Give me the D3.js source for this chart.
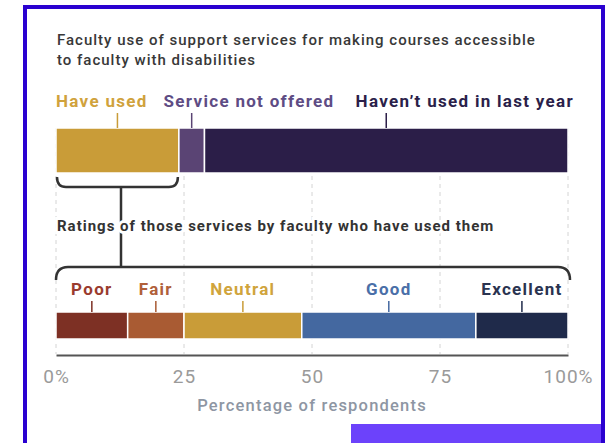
<!DOCTYPE html>
<html lang="en">
<head>
<meta charset="UTF-8">
<title>faculty support services</title>
<style>
  body { margin: 0; background: #fff; }
  svg { display: block; }
  text { font-family: Roboto, "Noto Sans", sans-serif; }
</style>
</head>
<body>
<svg id="chart" width="614" height="443"></svg>
<script src="https://cdn.jsdelivr.net/npm/d3@7"></script>
<script>
// data
const usageCats = ["Have used", "Service not offered", "Haven\u2019t used in last year"];
const usageVals = [24, 5, 71];
const usageColors = ["#c99c38", "#5a4474", "#2b1e48"];
const usageText = ["#d0a23c", "#5e4c84", "#2b1f4a"];

const ratingCats = ["Poor", "Fair", "Neutral", "Good", "Excellent"];
const ratingVals = [14, 11, 23, 34, 18];
const ratingColors = ["#7d3024", "#a95b33", "#c99c38", "#4468a0", "#1f2a4a"];
const ratingText = ["#9a3b2e", "#b0603a", "#d0a43c", "#4a6fa8", "#2a3350"];

const tickVals = [0, 25, 50, 75, 100];
const tickLabels = ["0%", "25", "50", "75", "100%"];

const svg = d3.select("#chart");

// frame
svg.append("rect")
  .attr("x", 25).attr("y", 7).attr("width", 578).attr("height", 500)
  .attr("fill", "none").attr("stroke", "#2a00d0").attr("stroke-width", 4);
svg.append("rect")
  .attr("x", 351).attr("y", 424).attr("width", 250).attr("height", 19)
  .attr("fill", "#6c42fb");

const x = d3.scaleLinear().domain([0, 100]).range([56, 568]);

// stacks
function stack(vals) {
  let acc = 0;
  return vals.map((v, i) => { const d = { i: i, x0: acc, x1: acc + v }; acc += v; return d; });
}
const usage = stack(usageVals);
const ratings = stack(ratingVals);

// grid
svg.append("g").selectAll("line")
  .data(tickVals).enter().append("line")
  .attr("x1", d => x(d)).attr("x2", d => x(d))
  .attr("y1", 128).attr("y2", 354)
  .attr("stroke", "#d4d4d4").attr("stroke-width", 1)
  .attr("stroke-dasharray", "4,4");

// title
const title = svg.append("text").attr("x", 57).attr("y", 45)
  .attr("font-size", 15).attr("font-weight", 500).attr("fill", "#383838")
  .attr("letter-spacing", 1);
title.append("tspan").attr("x", 57).text("Faculty use of support services for making courses accessible");
title.append("tspan").attr("x", 57).attr("dy", 20).text("to faculty with disabilities");

// top bar
const topY = 128, topH = 45;
svg.append("g").selectAll("rect")
  .data(usage).enter().append("rect")
  .attr("x", d => x(d.x0)).attr("width", d => x(d.x1) - x(d.x0))
  .attr("y", topY).attr("height", topH)
  .attr("fill", d => usageColors[d.i])
  .attr("stroke", "#fff").attr("stroke-width", 1.5);

svg.append("g").selectAll("line")
  .data(usage).enter().append("line")
  .attr("x1", d => x((d.x0 + d.x1) / 2)).attr("x2", d => x((d.x0 + d.x1) / 2))
  .attr("y1", 113).attr("y2", topY)
  .attr("stroke", d => usageColors[d.i]).attr("stroke-width", 1.5);

// top labels laid out in a row
const topLab = svg.append("g").selectAll("text")
  .data(usage).enter().append("text")
  .attr("y", 107).attr("font-size", 17).attr("font-weight", 700)
  .attr("letter-spacing", 1.3)
  .attr("fill", d => usageText[d.i])
  .text(d => usageCats[d.i]);
const labNodes = topLab.nodes();
const w0 = labNodes[0].getComputedTextLength();
d3.select(labNodes[0]).attr("x", x(0));
d3.select(labNodes[1]).attr("x", x(0) + w0 + 16);
d3.select(labNodes[2]).attr("x", x(100) + 6).attr("text-anchor", "end");

// brackets
const line = "#333";
const b0 = x(0) + 1, b1 = x(usageVals[0]) - 1, by = 187, r = 9;
svg.append("path")
  .attr("d", `M${b0},${by - r - 1} Q${b0},${by} ${b0 + r},${by} L${b1 - r},${by} Q${b1},${by} ${b1},${by - r - 1}`)
  .attr("fill", "none").attr("stroke", line).attr("stroke-width", 2.5);

const cx = 121, ly = 267;
svg.append("line").attr("x1", cx).attr("x2", cx).attr("y1", by).attr("y2", ly)
  .attr("stroke", line).attr("stroke-width", 2.5);

const l0 = x(0), l1 = x(100) + 2;
svg.append("path")
  .attr("d", `M${l0},${ly + 13} Q${l0},${ly} ${l0 + 12},${ly} L${l1 - 12},${ly} Q${l1},${ly} ${l1},${ly + 13}`)
  .attr("fill", "none").attr("stroke", line).attr("stroke-width", 2.5);

svg.append("text").attr("x", 57).attr("y", 231)
  .attr("font-size", 15).attr("font-weight", 700).attr("fill", "#333")
  .attr("letter-spacing", 1)
  .attr("stroke", "#fff").attr("stroke-width", 6).attr("paint-order", "stroke")
  .text("Ratings of those services by faculty who have used them");

// lower bar
const botY = 312, botH = 27;
svg.append("g").selectAll("rect")
  .data(ratings).enter().append("rect")
  .attr("x", d => x(d.x0)).attr("width", d => x(d.x1) - x(d.x0))
  .attr("y", botY).attr("height", botH)
  .attr("fill", d => ratingColors[d.i])
  .attr("stroke", "#fff").attr("stroke-width", 1.5);

svg.append("g").selectAll("line")
  .data(ratings).enter().append("line")
  .attr("x1", d => x((d.x0 + d.x1) / 2)).attr("x2", d => x((d.x0 + d.x1) / 2))
  .attr("y1", 301).attr("y2", botY)
  .attr("stroke", d => ratingColors[d.i]).attr("stroke-width", 1.5);

svg.append("g").selectAll("text")
  .data(ratings).enter().append("text")
  .attr("x", d => x((d.x0 + d.x1) / 2)).attr("y", 295)
  .attr("text-anchor", "middle").attr("font-size", 17).attr("font-weight", 700)
  .attr("letter-spacing", 1.3)
  .attr("fill", d => ratingText[d.i])
  .text(d => ratingCats[d.i]);

// axis
const axis = svg.append("g").attr("transform", "translate(0,355)")
  .call(d3.axisBottom(x).tickValues(tickVals).tickFormat((d, i) => tickLabels[i]).tickSize(0).tickPadding(15));
axis.select(".domain").attr("stroke", "#555").attr("stroke-width", 2);
axis.selectAll("text").attr("font-size", 19).attr("fill", "#9a9a9a")
  .attr("letter-spacing", 1)
  .attr("font-family", "Roboto, sans-serif");

svg.append("text").attr("x", x(50)).attr("y", 411).attr("text-anchor", "middle")
  .attr("font-size", 16.5).attr("font-weight", 500).attr("fill", "#8e96a3")
  .attr("letter-spacing", 1.2)
  .text("Percentage of respondents");
</script>
</body>
</html>
